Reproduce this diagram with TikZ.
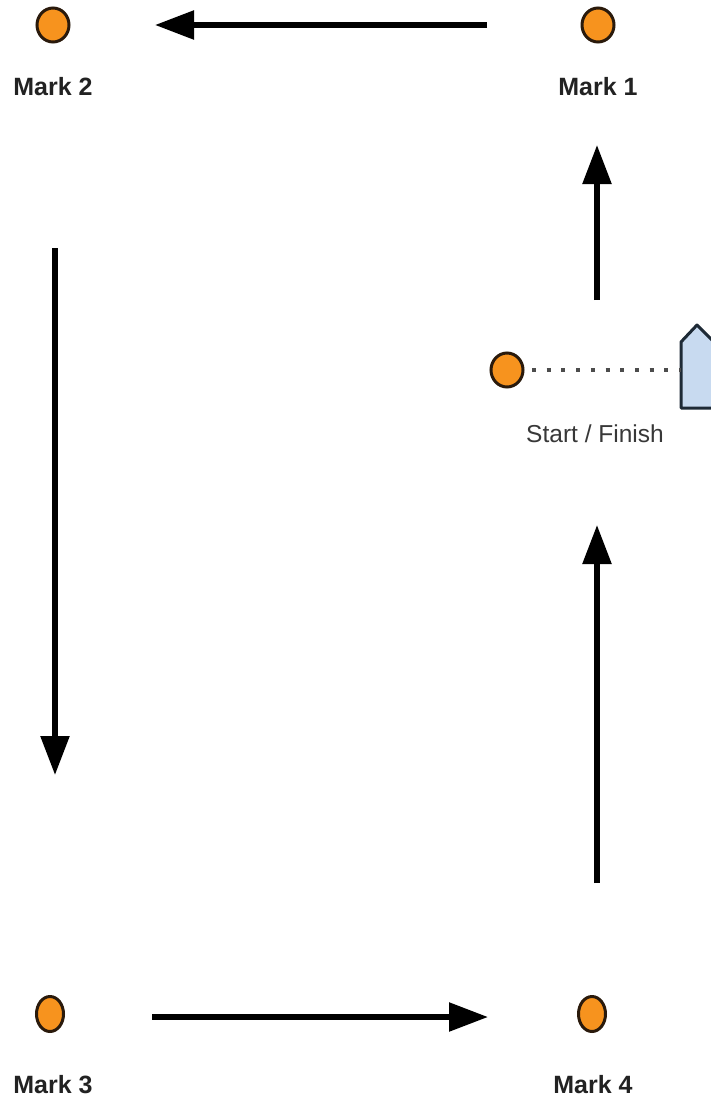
\documentclass[tikz,border=0pt]{standalone}
\usepackage{fontspec}
\setmainfont{Liberation Sans}
\usetikzlibrary{arrows.meta,shapes.geometric}
\definecolor{markorange}{HTML}{F7931E}
\definecolor{markedge}{HTML}{2A1A0C}
\definecolor{boatfill}{HTML}{C8DAF0}
\definecolor{boatedge}{HTML}{1E2A36}
\definecolor{txt}{HTML}{222222}
\tikzset{
  buoy/.style={ellipse, draw=markedge, fill=markorange, line width=3pt, inner sep=0pt},
  topbuoy/.style={buoy, minimum width=32pt, minimum height=34pt},
  lowbuoy/.style={buoy, minimum width=27pt, minimum height=35pt},
  marklabel/.style={font=\fontsize{25}{28}\selectfont\bfseries, text=txt, inner sep=0pt},
  startlabel/.style={font=\fontsize{24.5}{28}\selectfont, text=txt!90!white, inner sep=0pt},
  course/.style={line width=5.5pt, -{Triangle[length=39pt,width=28pt]}},
  startline/.style={line width=4pt, dash pattern=on 4pt off 10.7pt, draw=black!70},
  boatshape/.style={draw=boatedge, fill=boatfill, line width=3pt, line join=round}
}
\begin{document}
\begin{tikzpicture}[x=1pt,y=-1pt]
\useasboundingbox (0,0) rectangle (711,1103);
\fill[white] (0,0) rectangle (711,1103);
% marks
\node[topbuoy] (m2) at (53,25) {};
\node[topbuoy] (m1) at (598,25) {};
\node[lowbuoy] (m3) at (50,1014) {};
\node[lowbuoy] (m4) at (592,1014) {};
\node[topbuoy] (sm) at (507,370) {};
% labels
\node[marklabel] (l2) at (53,87) {Mark 2};
\node[marklabel] (l1) at (598,87) {Mark 1};
\node[marklabel] (l3) at (53,1085) {Mark 3};
\node[marklabel] (l4) at (593,1085) {Mark 4};
\node[startlabel] (ls) at (595,434) {Start / Finish};
% boat
\draw[boatshape] (681,408) -- (681,342) -- (697,325) -- (714,342) -- (714,408) -- cycle;
\coordinate (boat) at (681,370);
\coordinate (sl) at (532,370);
\draw[startline] (sl) -- (boat);
% course arrows
\coordinate (a1s) at (487,25);  \coordinate (a1e) at (155,25);
\coordinate (a2s) at (55,248);  \coordinate (a2e) at (55,775);
\coordinate (a3s) at (152,1017); \coordinate (a3e) at (488,1017);
\coordinate (a4s) at (597,883); \coordinate (a4e) at (597,525);
\coordinate (a5s) at (597,300); \coordinate (a5e) at (597,145);
\draw[course] (a1s) -- (a1e);
\draw[course] (a2s) -- (a2e);
\draw[course] (a3s) -- (a3e);
\draw[course] (a4s) -- (a4e);
\draw[course] (a5s) -- (a5e);
\end{tikzpicture}
\end{document}
